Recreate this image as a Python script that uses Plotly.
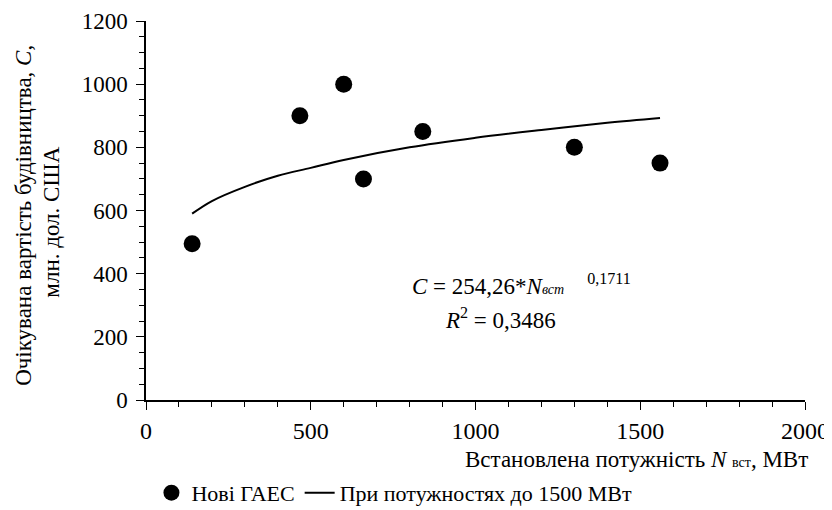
import plotly.graph_objects as go

# Data
capacity_mw = [140, 467, 600, 660, 840, 1300, 1560]
cost_musd = [495, 900, 1000, 700, 850, 800, 750]

trend_x = [140, 200, 300, 400, 500, 600, 800, 1000, 1200, 1400, 1560]
trend_y = [590, 630, 675, 710, 735, 760, 800, 830, 855, 878, 893]

x_ticks = [0, 500, 1000, 1500, 2000]
y_ticks = [0, 200, 400, 600, 800, 1000, 1200]

FONT = "Times New Roman, Liberation Serif, Tinos, DejaVu Serif, serif"

fig = go.Figure()
fig.add_trace(go.Scatter(
    x=capacity_mw, y=cost_musd, mode="markers", name="Нові ГАЕС",
    marker=dict(symbol="circle", size=17, color="black"),
))
fig.add_trace(go.Scatter(
    x=trend_x, y=trend_y, mode="lines", name="При потужностях до 1500 МВт",
    line=dict(color="black", width=2, shape="spline"),
))

fig.update_layout(
    width=832, height=510,
    margin=dict(l=138, r=35, t=13, b=118, autoexpand=False),
    paper_bgcolor="white", plot_bgcolor="white",
    font=dict(family=FONT, size=20, color="black"),
    showlegend=True,
    legend=dict(orientation="h", x=0.377, xanchor="center", y=-0.245, yanchor="middle",
                font=dict(family=FONT, size=22, color="black"),
                itemwidth=30, tracegroupgap=0),
    xaxis=dict(range=[0, 2000], tickvals=x_ticks, ticktext=[str(v) for v in x_ticks],
               automargin=False, ticklabeloverflow="allow",
               showline=True, linecolor="black", linewidth=1.5,
               ticks="outside", ticklen=8, tickcolor="black", tickwidth=1.2,
               minor=dict(dtick=100, tick0=0, ticks="outside", ticklen=5,
                          tickcolor="black", tickwidth=1, showgrid=False),
               showgrid=False, zeroline=False,
               tickfont=dict(family=FONT, size=24, color="black")),
    yaxis=dict(range=[0, 1200], tickvals=y_ticks, ticktext=[str(v) for v in y_ticks],
               automargin=False, ticklabeloverflow="allow", ticklabelstandoff=4,
               showline=True, linecolor="black", linewidth=1.5,
               ticks="outside", ticklen=8, tickcolor="black", tickwidth=1.2,
               minor=dict(dtick=50, tick0=0, ticks="outside", ticklen=5,
                          tickcolor="black", tickwidth=1, showgrid=False),
               showgrid=False, zeroline=False,
               tickfont=dict(family=FONT, size=23, color="black")),
)

fig.add_annotation(
    xref="paper", yref="paper", x=1.008, y=-0.158, xanchor="right", yanchor="middle",
    text="Встановлена потужність <i>N</i> <span style='font-size:14px'>вст</span>, МВт",
    showarrow=False, font=dict(family=FONT, size=23, color="black"),
)
fig.add_annotation(
    xref="paper", yref="paper", x=-0.187, y=0.488, xanchor="center", yanchor="middle",
    text="Очікувана вартість будівництва, <i>C</i>,", textangle=-90,
    showarrow=False, font=dict(family=FONT, size=23, color="black"),
)
fig.add_annotation(
    xref="paper", yref="paper", x=-0.143, y=0.47, xanchor="center", yanchor="middle",
    text="млн. дол. США", textangle=-90,
    showarrow=False, font=dict(family=FONT, size=23, color="black"),
)
fig.add_annotation(
    xref="x", yref="y", x=800, y=367, xanchor="left", yanchor="middle",
    text="<i>C</i> = 254,26*<i>N<span style='font-size:14px'>вст</span></i>&nbsp;&nbsp;&nbsp;&nbsp;<sup>0,1711</sup>",
    showarrow=False, font=dict(family=FONT, size=23, color="black"),
)
fig.add_annotation(
    xref="x", yref="y", x=900, y=257, xanchor="left", yanchor="middle",
    text="<i>R</i><sup>2</sup> = 0,3486",
    showarrow=False, font=dict(family=FONT, size=23, color="black"),
)

fig.write_html("out.html")
